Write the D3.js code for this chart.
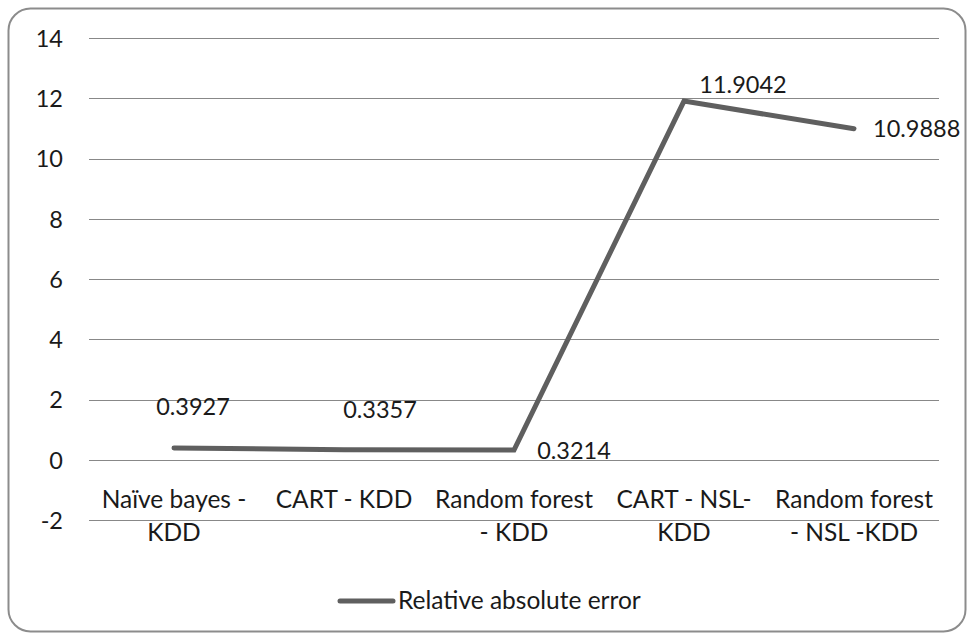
<!DOCTYPE html>
<html>
<head>
<meta charset="utf-8">
<script src="https://cdn.jsdelivr.net/npm/d3@7"></script>
<style>
  html, body { margin: 0; padding: 0; background: #fff; }
  svg { display: block; font-family: Lato, "Open Sans", sans-serif; }
</style>
</head>
<body>
<svg id="chart" width="974" height="640"></svg>
<script>
// Categories (each label split over two lines as drawn)
const categories = [
  ["Naïve bayes -", "KDD"],
  ["CART - KDD", ""],
  ["Random forest", "- KDD"],
  ["CART - NSL-", "KDD"],
  ["Random forest", "- NSL -KDD"]
];
const seriesName = "Relative absolute error";
const values = [0.3927, 0.3357, 0.3214, 11.9042, 10.9888];
const valueLabels = ["0.3927", "0.3357", "0.3214", "11.9042", "10.9888"];
const yTicks = [-2, 0, 2, 4, 6, 8, 10, 12, 14];

// Data-label placement (dx, dy from each point, text anchor)
const labelPlacement = [
  { dx: 19, dy: -33, anchor: "middle" },
  { dx: 36, dy: -32, anchor: "middle" },
  { dx: 60, dy: 9, anchor: "middle" },
  { dx: 59, dy: -8, anchor: "middle" },
  { dx: 19, dy: 8, anchor: "start" }
];

const numSize = 23.5, textSize = 24.5;
const plot = { left: 89, right: 939, top: 38, bottom: 520 };
const svg = d3.select("#chart");

// Chart frame
svg.append("rect")
  .attr("x", 8.5).attr("y", 8.5)
  .attr("width", 957).attr("height", 623)
  .attr("rx", 22).attr("ry", 22)
  .attr("fill", "#fff")
  .attr("stroke", "#8c8c8c")
  .attr("stroke-width", 2);

const x = d3.scaleBand()
  .domain(d3.range(categories.length))
  .range([plot.left, plot.right])
  .paddingInner(0).paddingOuter(0);

const y = d3.scaleLinear()
  .domain([-2, 14])
  .range([plot.bottom, plot.top]);

// Horizontal gridlines
svg.append("g")
  .selectAll("line")
  .data(yTicks)
  .join("line")
  .attr("x1", plot.left).attr("x2", plot.right)
  .attr("y1", d => Math.round(y(d)) + 0.5)
  .attr("y2", d => Math.round(y(d)) + 0.5)
  .attr("stroke", "#888888")
  .attr("stroke-width", 1);

// Y axis labels
const yAxis = d3.axisLeft(y)
  .tickValues(yTicks)
  .tickFormat(d => String(d))
  .tickSize(0)
  .tickPadding(26);
const yg = svg.append("g")
  .attr("transform", `translate(${plot.left},0)`)
  .call(yAxis);
yg.select(".domain").remove();
yg.selectAll("text")
  .attr("font-family", "Lato, 'Open Sans', sans-serif")
  .attr("font-size", numSize)
  .attr("fill", "#1a1a1a")
  .attr("dy", "0.36em");

// Category labels
const cx = i => x(i) + x.bandwidth() / 2;
const catG = svg.append("g");
categories.forEach((lines, i) => {
  lines.forEach((t, j) => {
    if (!t) return;
    catG.append("text")
      .attr("x", cx(i))
      .attr("y", 508 + j * 33)
      .attr("text-anchor", "middle")
      .attr("font-size", textSize)
      .attr("fill", "#1a1a1a")
      .text(t);
  });
});

// Series line
const line = d3.line()
  .x((d, i) => cx(i))
  .y(d => y(d));
svg.append("path")
  .datum(values)
  .attr("d", line)
  .attr("fill", "none")
  .attr("stroke", "#5f5f5f")
  .attr("stroke-width", 5)
  .attr("stroke-linejoin", "miter")
  .attr("stroke-linecap", "round");

// Data labels
svg.append("g")
  .selectAll("text")
  .data(values)
  .join("text")
  .attr("x", (d, i) => cx(i) + labelPlacement[i].dx)
  .attr("y", (d, i) => y(d) + labelPlacement[i].dy)
  .attr("text-anchor", (d, i) => labelPlacement[i].anchor)
  .attr("font-size", numSize)
  .attr("fill", "#1a1a1a")
  .text((d, i) => valueLabels[i]);

// Legend
const lg = svg.append("g").attr("transform", "translate(340,601)");
lg.append("line")
  .attr("x1", 0).attr("x2", 53)
  .attr("y1", 0).attr("y2", 0)
  .attr("stroke", "#5f5f5f")
  .attr("stroke-width", 5)
  .attr("stroke-linecap", "round");
lg.append("text")
  .attr("x", 58).attr("y", 8)
  .attr("font-size", textSize)
  .attr("fill", "#1a1a1a")
  .text(seriesName);
</script>
</body>
</html>
